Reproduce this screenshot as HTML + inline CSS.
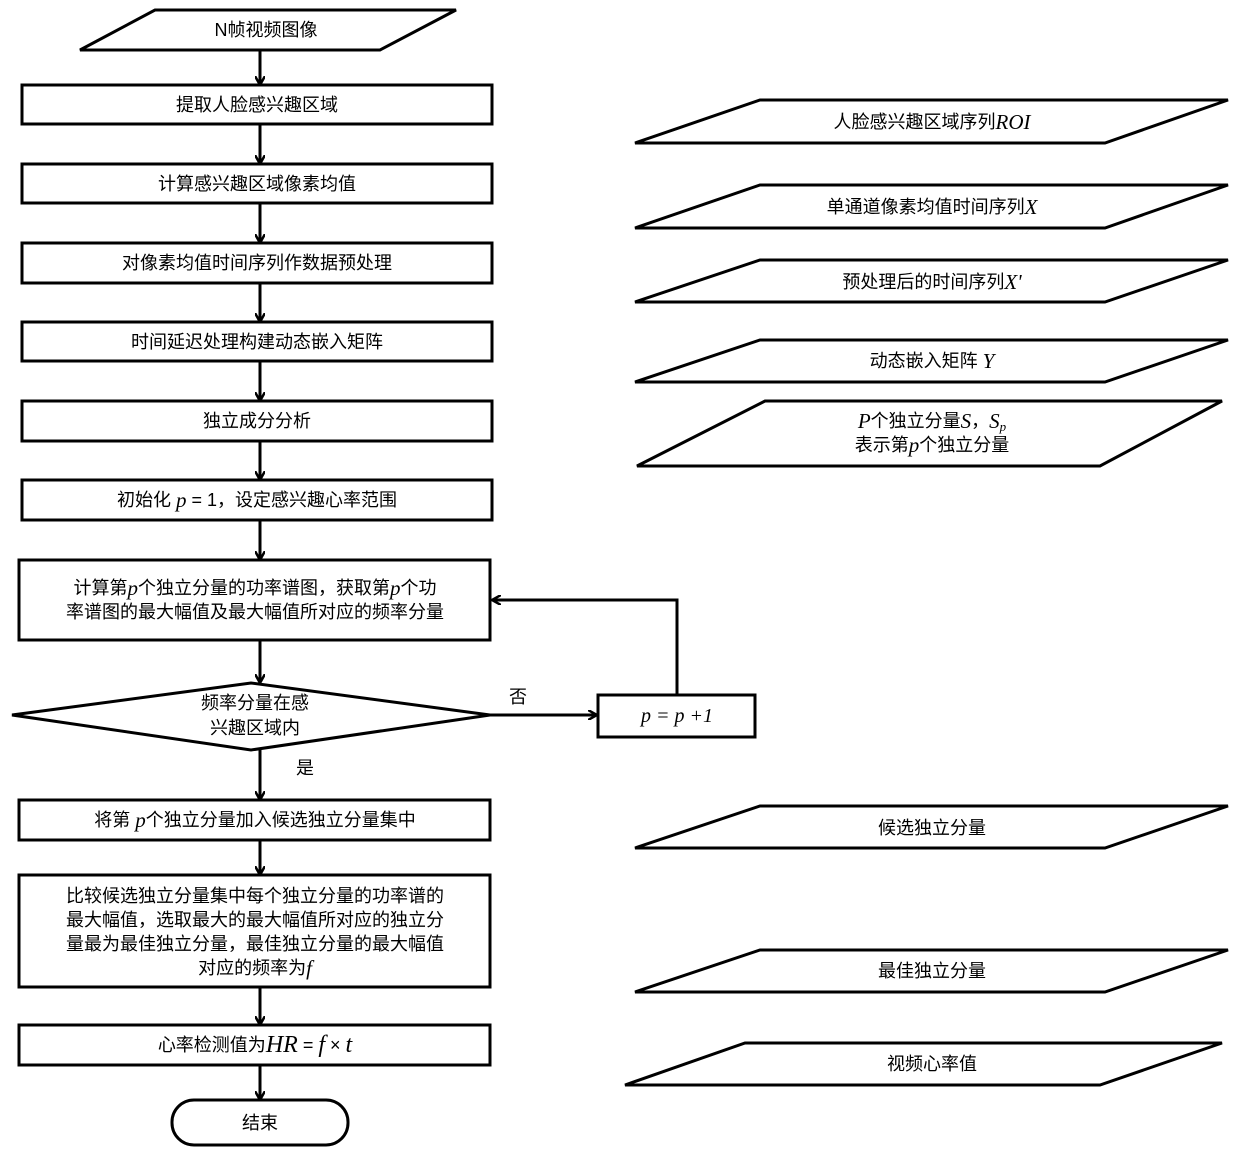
<!DOCTYPE html>
<html><head><meta charset="utf-8"><style>
body{margin:0;background:#fff}
svg{display:block}
text{font-family:"Liberation Sans","Noto Sans CJK SC",sans-serif;font-size:18px;fill:#000;text-anchor:middle;dominant-baseline:central}
.m{font-family:"Liberation Serif",serif;font-style:italic;font-size:21px}
</style></head><body>
<svg width="1240" height="1155" viewBox="0 0 1240 1155">
<defs><marker id="a" markerWidth="10" markerHeight="10" refX="8" refY="5" orient="auto" markerUnits="userSpaceOnUse"><path d="M0,0 L9,5 L0,10" fill="none" stroke="#000" stroke-width="2.5"/></marker></defs>
<g fill="none" stroke="#000" stroke-width="3">
<polygon points="155,10 456,10 380,50 80,50"/>
<rect x="22" y="85" width="470" height="39"/>
<rect x="22" y="164" width="470" height="39"/>
<rect x="22" y="243" width="470" height="40"/>
<rect x="22" y="322" width="470" height="39"/>
<rect x="22" y="401" width="470" height="40"/>
<rect x="22" y="480" width="470" height="40"/>
<rect x="19" y="560" width="471" height="80"/>
<polygon points="12,715 251,683 490,715 251,750"/>
<rect x="598" y="695" width="157" height="42"/>
<rect x="19" y="800" width="471" height="40"/>
<rect x="19" y="875" width="471" height="112"/>
<rect x="19" y="1025" width="471" height="40"/>
<rect x="172" y="1100" width="176" height="45" rx="22"/>
<polygon points="760,100 1228,100 1105,143 635,143"/>
<polygon points="760,185 1228,185 1105,228 635,228"/>
<polygon points="760,260 1228,260 1105,302 635,302"/>
<polygon points="760,340 1228,340 1105,382 635,382"/>
<polygon points="765,401 1222,401 1100,466 637,466"/>
<polygon points="760,806 1228,806 1105,848 635,848"/>
<polygon points="760,950 1228,950 1105,992 635,992"/>
<polygon points="745,1043 1222,1043 1100,1085 625,1085"/>
</g>
<g stroke="#000" stroke-width="3" fill="none" marker-end="url(#a)">
<line x1="260" y1="50" x2="260" y2="84"/>
<line x1="260" y1="124" x2="260" y2="163"/>
<line x1="260" y1="203" x2="260" y2="242"/>
<line x1="260" y1="283" x2="260" y2="321"/>
<line x1="260" y1="361" x2="260" y2="400"/>
<line x1="260" y1="441" x2="260" y2="479"/>
<line x1="260" y1="520" x2="260" y2="559"/>
<line x1="260" y1="640" x2="260" y2="682"/>
<line x1="260" y1="750" x2="260" y2="799"/>
<line x1="260" y1="840" x2="260" y2="874"/>
<line x1="260" y1="987" x2="260" y2="1024"/>
<line x1="260" y1="1065" x2="260" y2="1099"/>
<line x1="490" y1="715" x2="596" y2="715"/>
<polyline points="677,695 677,600 493,600"/>
</g>
<text x="266" y="30">N帧视频图像</text>
<text x="257" y="105">提取人脸感兴趣区域</text>
<text x="257" y="184">计算感兴趣区域像素均值</text>
<text x="257" y="263">对像素均值时间序列作数据预处理</text>
<text x="257" y="342">时间延迟处理构建动态嵌入矩阵</text>
<text x="257" y="421">独立成分分析</text>
<text x="257" y="500">初始化 <tspan class="m">p</tspan> = 1，设定感兴趣心率范围</text>
<text x="255" y="588">计算第<tspan class="m">p</tspan>个独立分量的功率谱图，获取第<tspan class="m">p</tspan>个功</text>
<text x="255" y="612">率谱图的最大幅值及最大幅值所对应的频率分量</text>
<text x="255" y="703">频率分量在感</text>
<text x="255" y="728">兴趣区域内</text>
<text x="518" y="697">否</text>
<text x="305" y="768">是</text>
<text x="677" y="716" class="m" style="font-size:20px">p = p +1</text>
<text x="255" y="820">将第 <tspan class="m">p</tspan>个独立分量加入候选独立分量集中</text>
<text x="255" y="896">比较候选独立分量集中每个独立分量的功率谱的</text>
<text x="255" y="920">最大幅值，选取最大的最大幅值所对应的独立分</text>
<text x="255" y="944">量最为最佳独立分量，最佳独立分量的最大幅值</text>
<text x="255" y="968">对应的频率为<tspan class="m">f</tspan></text>
<text x="255" y="1045">心率检测值为<tspan class="m" style="font-size:24px">HR</tspan> = <tspan class="m" style="font-size:24px">f</tspan> × <tspan class="m" style="font-size:24px">t</tspan></text>
<text x="260" y="1123">结束</text>
<text x="932" y="122">人脸感兴趣区域序列<tspan class="m">ROI</tspan></text>
<text x="932" y="207">单通道像素均值时间序列<tspan class="m">X</tspan></text>
<text x="932" y="282">预处理后的时间序列<tspan class="m">X'</tspan></text>
<text x="932" y="361">动态嵌入矩阵 <tspan class="m">Y</tspan></text>
<text x="932" y="421"><tspan class="m">P</tspan>个独立分量<tspan class="m">S</tspan>，<tspan class="m">S</tspan><tspan class="m" style="font-size:13px" dy="5">p</tspan></text>
<text x="932" y="445">表示第<tspan class="m">p</tspan>个独立分量</text>
<text x="932" y="828">候选独立分量</text>
<text x="932" y="971">最佳独立分量</text>
<text x="932" y="1064">视频心率值</text>
</svg>
</body></html>
